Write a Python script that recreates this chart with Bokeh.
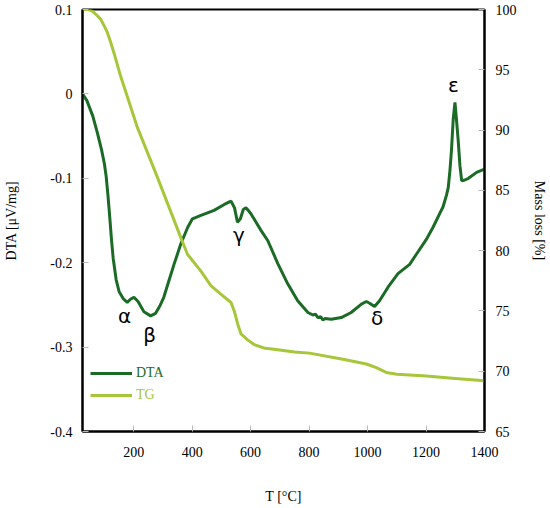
from bokeh.plotting import figure
from bokeh.models import Range1d, LinearAxis, FixedTicker, Legend, LegendItem
from bokeh.core.properties import value
from bokeh.embed import file_html
from bokeh.resources import INLINE

# DTA curve (T in °C, DTA in µV/mg)
dta_t = [25, 40, 60, 75, 90, 100, 106, 112, 118, 124, 130, 140, 150, 165, 178, 190, 201, 215, 235,
         258, 275, 290, 303, 320, 338, 362, 385, 401, 430, 475, 510, 533, 545, 555, 565,
         575, 584, 592, 601, 636, 659, 693, 727, 761, 796, 813, 822, 830, 840, 847, 855, 876, 910, 944,
         979, 996, 1007, 1024, 1041, 1070, 1104, 1144, 1167, 1200, 1224, 1245, 1258, 1270,
         1276, 1282, 1287, 1293, 1299, 1304, 1310, 1316, 1322, 1333, 1345, 1373, 1400]
dta_v = [0.000, -0.008, -0.026, -0.045, -0.066, -0.083, -0.098, -0.120, -0.145, -0.172,
         -0.195, -0.220, -0.234, -0.243, -0.247, -0.243, -0.241, -0.246, -0.258, -0.263,
         -0.260, -0.251, -0.241, -0.222, -0.202, -0.177, -0.158, -0.148, -0.144, -0.138,
         -0.131, -0.127, -0.135, -0.152, -0.148, -0.137, -0.135, -0.138, -0.142, -0.162,
         -0.174, -0.201, -0.225, -0.245, -0.259, -0.262, -0.261, -0.265, -0.264, -0.268,
         -0.266, -0.267, -0.265,
         -0.259, -0.249, -0.246, -0.248, -0.252, -0.245, -0.229, -0.213, -0.202, -0.190,
         -0.173, -0.158, -0.143, -0.134, -0.120, -0.111, -0.090, -0.067, -0.030, -0.010,
         -0.030, -0.055, -0.085, -0.103, -0.102, -0.100, -0.093, -0.089]

# TG curve (T in °C, mass in %)
tg_t = [25, 45, 60, 75, 87, 98, 110, 121, 135, 155, 213, 281, 361, 384, 430, 464, 498, 533,
        544, 556, 567, 590, 613, 650, 687, 750, 801, 916, 996, 1030, 1064, 1100, 1201, 1300, 1400]
tg_m = [100.0, 100.0, 99.85, 99.5, 99.2, 98.7, 98.1, 97.3, 96.2, 94.5, 90.2, 86.1, 81.1,
        79.7, 78.3, 77.1, 76.4, 75.7, 75.0, 73.9, 73.1, 72.6, 72.2, 71.9, 71.8, 71.6, 71.5,
        71.0, 70.6, 70.3, 69.9, 69.75, 69.6, 69.4, 69.2]

# peak annotations
peak_labels = ["α", "β", "γ", "δ", "ε"]
peak_t = [169, 255, 560, 1033, 1294]
peak_v = [-0.263, -0.286, -0.167, -0.265, 0.010]

x_ticks = [200, 400, 600, 800, 1000, 1200, 1400]
dta_ticks = [-0.4, -0.3, -0.2, -0.1, 0.0, 0.1]
dta_tick_labels = ["-0.4", "-0.3", "-0.2", "-0.1", "0", "0.1"]
mass_ticks = [65, 70, 75, 80, 85, 90, 95, 100]

DTA_COLOR = "#1b6b27"
TG_COLOR = "#a6c739"
FONT = "Liberation Serif"

p = figure(width=550, height=508, output_backend="svg", toolbar_location=None,
           x_range=Range1d(25, 1400), y_range=Range1d(-0.4, 0.1),
           min_border_left=82, min_border_right=66, min_border_top=9, min_border_bottom=77)
p.extra_y_ranges = {"mass": Range1d(65, 100)}
p.xgrid.visible = False
p.ygrid.visible = False
p.outline_line_color = "black"
p.outline_line_width = 2
p.background_fill_color = "white"
p.border_fill_color = "white"

r_dta = p.line(dta_t, dta_v, line_color=DTA_COLOR, line_width=3)
r_tg = p.line(tg_t, tg_m, line_color=TG_COLOR, line_width=3, y_range_name="mass")

p.text(x=peak_t, y=peak_v, text=peak_labels, text_font=value("DejaVu Sans"),
       text_font_size="20px", text_align="center", text_baseline="middle", text_color="black")

right = LinearAxis(y_range_name="mass")
p.add_layout(right, "right")

def style(ax):
    ax.axis_line_color = "black"
    ax.axis_line_width = 2
    ax.major_tick_in = 6
    ax.major_tick_out = 0
    ax.major_tick_line_color = "#bbbbbb"
    ax.minor_tick_line_color = None
    ax.major_label_text_font = FONT
    ax.major_label_text_font_size = "14px"
    ax.major_label_text_color = "black"
    ax.axis_label_text_font = FONT
    ax.axis_label_text_font_size = "14px"
    ax.axis_label_text_font_style = "normal"
    ax.axis_label_text_color = "black"

xa = p.xaxis[0]
style(xa)
xa.ticker = FixedTicker(ticks=x_ticks)
xa.axis_label = "T [°C]"
xa.major_label_standoff = 15
xa.axis_label_standoff = 29

ya = p.yaxis[0]
style(ya)
ya.ticker = FixedTicker(ticks=dta_ticks)
ya.major_label_overrides = {t: l for t, l in zip(dta_ticks, dta_tick_labels)}
ya.axis_label = "DTA [μV/mg]"
ya.major_label_standoff = 10
ya.axis_label_standoff = 28

style(right)
right.ticker = FixedTicker(ticks=mass_ticks)
right.axis_label = "Mass loss [%]"
right.major_label_standoff = 11
right.axis_label_standoff = 12

def make_legend(label, r, color, y):
    return Legend(items=[LegendItem(label=label, renderers=[r])], location=(8, y),
                  padding=0, margin=0, spacing=0, glyph_width=42, glyph_height=20,
                  label_height=20, label_standoff=4, label_text_font=FONT,
                  label_text_font_size="14px", label_text_color=color,
                  background_fill_alpha=0, border_line_alpha=0)

p.add_layout(make_legend("DTA", r_dta, DTA_COLOR, 48))
p.add_layout(make_legend("TG", r_tg, TG_COLOR, 26))

open("out.html", "w").write(file_html(p, INLINE))
